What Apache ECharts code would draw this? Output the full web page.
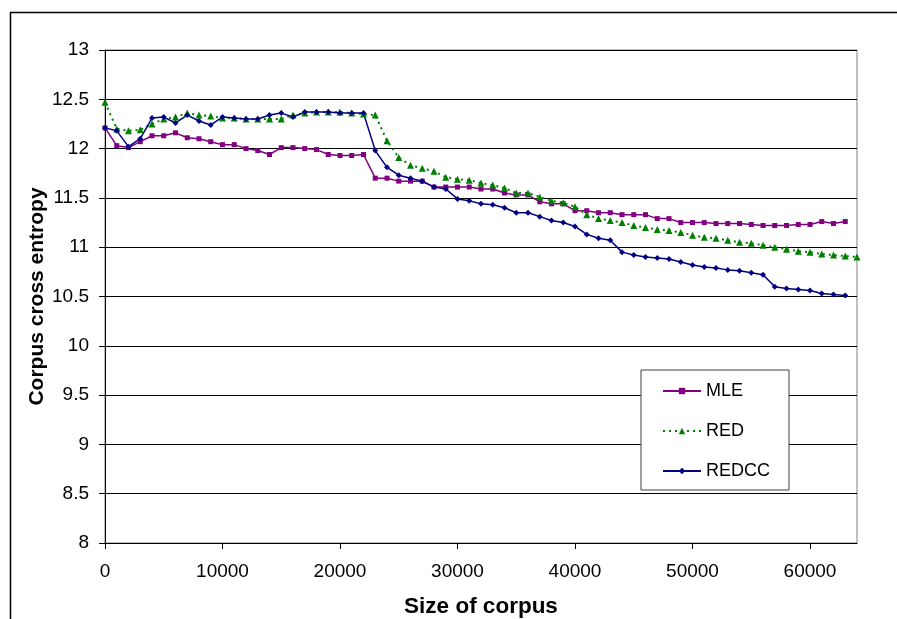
<!DOCTYPE html>
<html>
<head>
<meta charset="utf-8">
<script src="https://cdn.jsdelivr.net/npm/echarts@6/dist/echarts.min.js"></script>
<style>
  html, body { margin: 0; padding: 0; background: #fff; }
  #chart { width: 897px; height: 619px; }
</style>
</head>
<body>
<div id="chart"></div>
<script>
// corpus sizes (x) for every reading
var sizes = [0, 1000, 2000, 3000, 4000, 5000, 6000, 7000, 8000, 9000,
    10000, 11000, 12000, 13000, 14000, 15000, 16000, 17000, 18000, 19000,
    20000, 21000, 22000, 23000, 24000, 25000, 26000, 27000, 28000, 29000,
    30000, 31000, 32000, 33000, 34000, 35000, 36000, 37000, 38000, 39000,
    40000, 41000, 42000, 43000, 44000, 45000, 46000, 47000, 48000, 49000,
    50000, 51000, 52000, 53000, 54000, 55000, 56000, 57000, 58000, 59000,
    60000, 61000, 62000, 63000, 64000];

var mle = [12.21, 12.03, 12.01, 12.07, 12.13, 12.13, 12.16, 12.11, 12.10, 12.07,
    12.04, 12.04, 12.00, 11.98, 11.94, 12.01, 12.01, 12.00, 11.99, 11.94,
    11.93, 11.93, 11.94, 11.70, 11.70, 11.67, 11.67, 11.67, 11.61, 11.61,
    11.61, 11.61, 11.59, 11.59, 11.55, 11.53, 11.53, 11.46, 11.44, 11.44,
    11.37, 11.37, 11.35, 11.35, 11.33, 11.33, 11.33, 11.29, 11.29, 11.25,
    11.25, 11.25, 11.24, 11.24, 11.24, 11.23, 11.22, 11.22, 11.22, 11.23,
    11.23, 11.26, 11.24, 11.26];

var red = [12.47, 12.20, 12.18, 12.19, 12.25, 12.30, 12.32, 12.36, 12.34, 12.33,
    12.31, 12.31, 12.30, 12.30, 12.30, 12.30, 12.34, 12.36, 12.37, 12.37,
    12.37, 12.36, 12.35, 12.34, 12.08, 11.91, 11.83, 11.80, 11.77, 11.71,
    11.69, 11.68, 11.65, 11.63, 11.60, 11.55, 11.55, 11.51, 11.47, 11.45,
    11.41, 11.33, 11.29, 11.27, 11.25, 11.22, 11.20, 11.18, 11.17, 11.15,
    11.12, 11.10, 11.09, 11.07, 11.05, 11.04, 11.02, 11.00, 10.98, 10.96,
    10.95, 10.93, 10.92, 10.91, 10.90];

var redcc = [12.21, 12.18, 12.02, 12.10, 12.31, 12.32, 12.26, 12.34, 12.28, 12.24,
    12.32, 12.31, 12.30, 12.30, 12.34, 12.36, 12.32, 12.37, 12.37, 12.37,
    12.36, 12.36, 12.36, 11.98, 11.81, 11.73, 11.70, 11.67, 11.61, 11.59,
    11.49, 11.47, 11.44, 11.43, 11.40, 11.35, 11.35, 11.31, 11.27, 11.25,
    11.21, 11.13, 11.09, 11.07, 10.95, 10.92, 10.90, 10.89, 10.88, 10.85,
    10.82, 10.80, 10.79, 10.77, 10.76, 10.74, 10.72, 10.60, 10.58, 10.57,
    10.56, 10.53, 10.52, 10.51];

function pairs(vals) {
    return vals.map(function (v, i) { return [sizes[i], v]; });
}

var font = 'Liberation Sans, Arial, sans-serif';
var chart = echarts.init(document.getElementById('chart'));

var option = {
    animation: false,
    graphic: [{
        type: 'rect',
        left: 8, top: 10,
        shape: { width: 960, height: 700 },
        style: { fill: 'none', stroke: '#000', lineWidth: 1.5 }
    }],
    grid: {
        left: 105, right: 40, top: 50, bottom: 76,
        outerBoundsMode: 'none',
        show: true,
        borderColor: '#808080',
        borderWidth: 1
    },
    legend: {
        orient: 'vertical',
        left: 641, top: 370,
        padding: [12, 19, 10, 21],
        itemGap: 22,
        itemWidth: 38,
        itemHeight: 8,
        backgroundColor: '#fff',
        borderColor: '#404040',
        borderWidth: 1,
        textStyle: { fontFamily: font, fontSize: 18, color: '#000', lineHeight: 18 },
        data: ['MLE', 'RED', 'REDCC']
    },
    xAxis: {
        type: 'value',
        min: 0, max: 64000, interval: 10000,
        name: 'Size of corpus',
        nameLocation: 'middle',
        nameGap: 52,
        nameMoveOverlap: false,
        nameTextStyle: { fontFamily: font, fontSize: 22.5, fontWeight: 'bold', color: '#000' },
        axisLine: { lineStyle: { color: '#000', width: 1 } },
        axisTick: { show: true, length: 6, lineStyle: { color: '#000' } },
        axisLabel: {
            fontFamily: font, fontSize: 19, color: '#000', margin: 19, showMaxLabel: false,
            formatter: function (v) { return String(v); }
        },
        splitLine: { show: false }
    },
    yAxis: {
        type: 'value',
        min: 8, max: 13, interval: 0.5,
        name: 'Corpus cross entropy',
        nameLocation: 'middle',
        nameGap: 57,
        nameMoveOverlap: false,
        nameTextStyle: { fontFamily: font, fontSize: 21, fontWeight: 'bold', color: '#000' },
        axisLine: { show: true, lineStyle: { color: '#000', width: 1 } },
        axisTick: { show: true, length: 6, lineStyle: { color: '#000' } },
        axisLabel: { fontFamily: font, fontSize: 19, color: '#000', margin: 16 },
        splitLine: { show: true, lineStyle: { color: '#000', width: 1 } }
    },
    series: [
        {
            name: 'MLE',
            type: 'line',
            data: pairs(mle),
            symbol: 'rect',
            symbolSize: 5,
            lineStyle: { color: '#800080', width: 1.5 },
            itemStyle: { color: '#800080' }
        },
        {
            name: 'RED',
            type: 'line',
            data: pairs(red),
            symbol: 'triangle',
            symbolSize: 7,
            lineStyle: { color: '#008000', width: 2, type: [2, 4] },
            itemStyle: { color: '#008000' }
        },
        {
            name: 'REDCC',
            type: 'line',
            data: pairs(redcc),
            symbol: 'diamond',
            symbolSize: 6,
            lineStyle: { color: '#000080', width: 1.5 },
            itemStyle: { color: '#000080' }
        }
    ]
};

chart.setOption(option);
</script>
</body>
</html>
